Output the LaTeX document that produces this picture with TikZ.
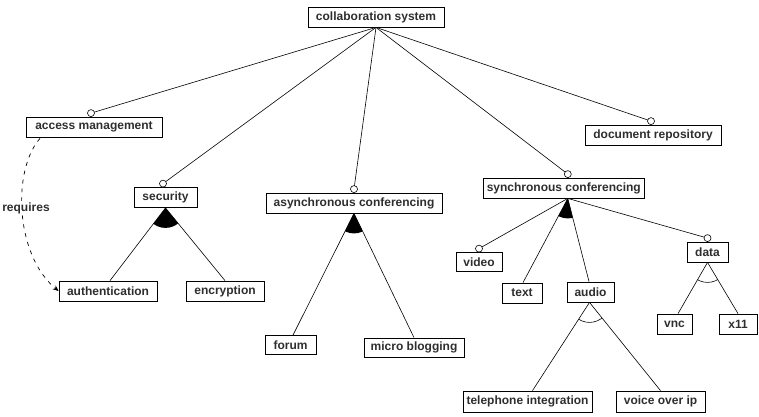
\documentclass[tikz,border=0pt]{standalone}
\usepackage{fontspec}
\setmainfont{Liberation Sans}
\usetikzlibrary{calc,arrows.meta}
\begin{document}
\begin{tikzpicture}[x=1pt,y=-1pt,
  feat/.style={draw, line width=0.8pt, inner xsep=1pt, inner ysep=0pt,
    minimum height=20pt, font=\fontsize{12}{13}\selectfont\bfseries, text=black!82},
  conn/.style={line width=0.6pt},
  optc/.style={draw, line width=0.6pt, fill=white},
  reqline/.style={line width=0.7pt, dash pattern=on 4pt off 5pt, -{Stealth[length=6pt,width=5pt]}}]
\useasboundingbox (0,0) rectangle (759,416);
% features
\node[feat, minimum width=136pt] (root) at (376,17) {collaboration system};
\node[feat, minimum width=136pt] (acc) at (94,127) {access management};
\node[feat, minimum width=136pt] (doc) at (653,135) {document repository};
\node[feat, minimum width=63pt] (sec) at (165.5,197.5) {security};
\node[feat, minimum width=98pt] (auth) at (108,291) {authentication};
\node[feat, minimum width=78pt] (enc) at (225,291) {encryption};
\node[feat, minimum width=176pt] (asy) at (354,203) {asynchronous conferencing};
\node[feat, minimum width=51pt, minimum height=19pt] (forum) at (290.5,345) {forum};
\node[feat, minimum width=100pt, minimum height=19pt] (micro) at (414,347.5) {micro blogging};
\node[feat, minimum width=161pt] (sync) at (563.8,188) {synchronous conferencing};
\node[feat, minimum width=46pt, minimum height=19pt] (video) at (479,262) {video};
\node[feat, minimum width=40pt] (text) at (522,293) {text};
\node[feat, minimum width=47pt] (audio) at (590.5,292) {audio};
\node[feat, minimum width=41pt] (data) at (707.5,252) {data};
\node[feat, minimum width=35pt] (vnc) at (674.5,324) {vnc};
\node[feat, minimum width=38pt] (x11) at (738,324) {x11};
\node[feat, minimum width=129pt, minimum height=21pt] (tel) at (527.5,401.5) {telephone integration};
\node[feat, minimum width=89pt, minimum height=21pt] (voip) at (660.5,401.5) {voice over ip};
% optional-feature circles
\coordinate (cacc) at ($(acc.north)+(-3,-3.5)$);
\coordinate (cdoc) at ($(doc.north)+(-2,-3.5)$);
\coordinate (csec) at ($(sec.north)+(-2.5,-3.5)$);
\coordinate (casy) at ($(asy.north)+(0,-3.5)$);
\coordinate (csync) at ($(sync.north)+(4,-3.5)$);
\coordinate (cvideo) at ($(video.north)+(0,-3.5)$);
\coordinate (cdata) at ($(data.north)+(0,-3.5)$);
% group apexes and child ends
\coordinate (secb) at (sec.south);
\coordinate (asyb) at (asy.south);
\coordinate (syncb) at ($(sync.south)+(4,0)$);
\coordinate (datab) at (data.south);
\coordinate (audiob) at ($(audio.south)+(-1,0)$);
\coordinate (eauth) at ($(auth.north)+(2,0)$);
\coordinate (eenc) at (enc.north);
\coordinate (eforum) at ($(forum.north)+(2.5,0)$);
\coordinate (emicro) at (micro.north);
\coordinate (etext) at ($(text.north)+(1,0)$);
\coordinate (eaudio) at ($(audio.north)+(-1.5,0)$);
\coordinate (evnc) at ($(vnc.north)+(3.5,0)$);
\coordinate (ex11) at (x11.north);
\coordinate (etel) at ($(tel.north)+(5,0)$);
\coordinate (evoip) at (voip.north);
% connectors
\draw[conn] (root.south) -- (cacc);
\draw[conn] (root.south) -- (csec);
\draw[conn] (root.south) -- (casy);
\draw[conn] (root.south) -- (csync);
\draw[conn] (root.south) -- (cdoc);
\draw[conn] (syncb) -- (cvideo);
\draw[conn] (syncb) -- (cdata);
\draw[conn] (secb) -- (eauth);
\draw[conn] (secb) -- (eenc);
\draw[conn] (asyb) -- (eforum);
\draw[conn] (asyb) -- (emicro);
\draw[conn] (syncb) -- (etext);
\draw[conn] (syncb) -- (eaudio);
\draw[conn] (datab) -- (evnc);
\draw[conn] (datab) -- (ex11);
\draw[conn] (audiob) -- (etel);
\draw[conn] (audiob) -- (evoip);
% or-groups (filled sectors)
\begin{scope}
  \clip (secb) -- (eauth) -- (eenc) -- cycle;
  \fill (secb) circle (20);
\end{scope}
\begin{scope}
  \clip (asyb) -- (eforum) -- (emicro) -- cycle;
  \fill (asyb) circle (20);
\end{scope}
\begin{scope}
  \clip (syncb) -- (etext) -- (eaudio) -- cycle;
  \fill (syncb) circle (20);
\end{scope}
% alternative groups (open arcs)
\begin{scope}
  \clip (datab) -- (evnc) -- (ex11) -- cycle;
  \draw[conn] (datab) circle (20);
\end{scope}
\begin{scope}
  \clip (audiob) -- (etel) -- (evoip) -- cycle;
  \draw[conn] (audiob) circle (20);
\end{scope}
% circles
\foreach \c in {cacc,cdoc,csec,casy,csync,cvideo,cdata}
  \draw[optc] (\c) circle (3.5);
% requires constraint
\coordinate (rs) at ($(acc.south)+(-54,1)$);
\draw[reqline] (rs) .. controls (12,170) and (15,255) .. (auth.west);
\node[fill=white, inner sep=1pt, font=\fontsize{12}{13}\selectfont\bfseries, text=black!82] (req) at (26,208) {requires};
\end{tikzpicture}
\end{document}
